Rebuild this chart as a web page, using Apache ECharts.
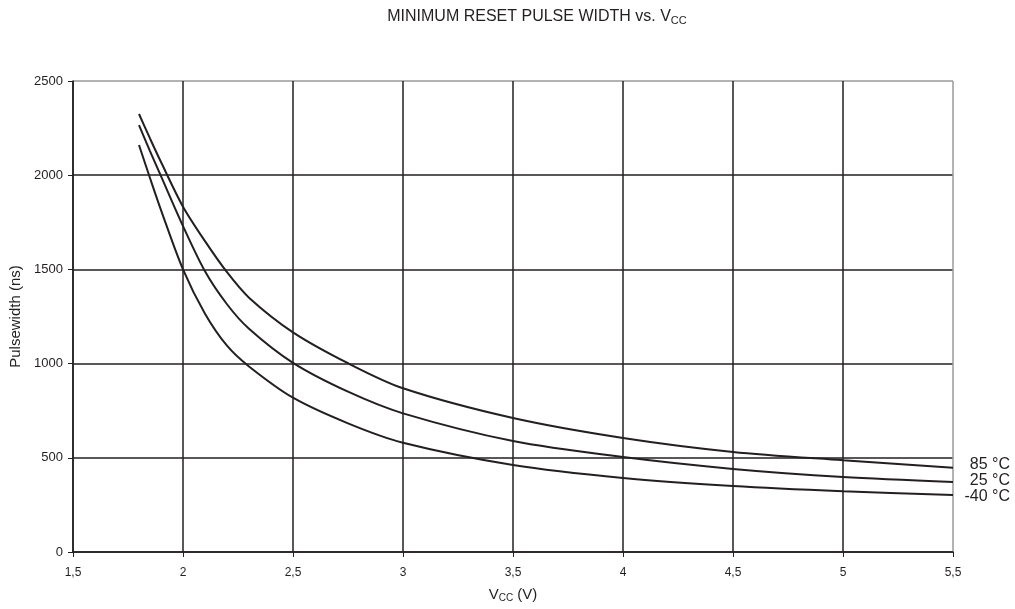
<!DOCTYPE html>
<html>
<head>
<meta charset="utf-8">
<script src="https://cdn.jsdelivr.net/npm/echarts@6/dist/echarts.min.js"></script>
<style>
	html, body { margin: 0; padding: 0; background: #fff; }
	#chart_pulse { width: 1015px; height: 609px; }
</style>
</head>
<body>
<div id="chart_pulse"></div>
<script>
	// supply voltage (V)
	var vcc = [1.8, 1.85, 1.9, 2.0, 2.1, 2.2, 2.3, 2.5, 2.75, 3, 3.5, 4, 4.5, 5, 5.5]
	// minimum reset pulse width (ns)
	var pw_85 = [2325, 2195, 2070, 1833, 1650, 1485, 1350, 1166, 1002, 869, 711, 605, 531, 487, 447]
	var pw_25 = [2266, 2128, 1995, 1730, 1490, 1315, 1185, 1004, 851, 736, 589, 504, 441, 398, 372]
	var pw_m40 = [2160, 1985, 1815, 1500, 1265, 1095, 985, 819, 683, 580, 462, 393, 350, 322, 302]
	var series_names = ['85 °C', '25 °C', '-40 °C']
	var x_ticks = [1.5, 2, 2.5, 3, 3.5, 4, 4.5, 5, 5.5]
	var y_ticks = [0, 500, 1000, 1500, 2000, 2500]

	var dark = '#231f20'
	var gray = '#9a9a9a'
	var font = 'Liberation Sans, Arial, sans-serif'

	function pairs(ys) {
		var out = []
		for (var i = 0; i < vcc.length; i++) out.push([vcc[i], ys[i]])
		return out
	}

	function curve(name, ys) {
		return {
			name: name,
			type: 'line',
			data: pairs(ys),
			smooth: 0.3,
			symbol: 'none',
			lineStyle: { color: dark, width: 2 },
			z: 5
		}
	}

	function sub_rich(size) {
		return {
			t: { fontFamily: font, fontSize: size, fontWeight: 'normal', color: dark },
			s: { fontFamily: font, fontSize: size - 5, fontWeight: 'normal', color: dark, verticalAlign: 'bottom', padding: [7, 0, 0, 0] }
		}
	}

	var chart = echarts.init(document.getElementById('chart_pulse'))
	var option = {
		animation: false,
		backgroundColor: '#fff',
		title: {
			text: '{t|MINIMUM RESET PULSE WIDTH vs. V}{s|CC}',
			left: 532,
			top: 3,
			textAlign: 'center',
			textStyle: { fontWeight: 'normal', rich: sub_rich(16) }
		},
		grid: { left: 73, right: 62, top: 81, bottom: 57, show: false, outerBoundsMode: 'none', containLabel: false },
		xAxis: {
			type: 'value',
			min: x_ticks[0],
			max: x_ticks[x_ticks.length - 1],
			interval: 0.5,
			name: '{t|V}{s|CC}{t| (V)}',
			nameLocation: 'middle',
			nameGap: 34,
			nameTextStyle: { rich: sub_rich(15) },
			axisLine: { show: true, lineStyle: { color: dark, width: 1.5 } },
			axisTick: { show: true, length: 5, lineStyle: { color: dark, width: 1 } },
			axisLabel: {
				fontFamily: font, fontSize: 12, color: dark, margin: 15,
				formatter: function(v) { return String(v).replace('.', ',') }
			},
			splitLine: {
				show: true,
				lineStyle: { color: [dark, dark, dark, dark, dark, dark, dark, dark, gray], width: 1.5 }
			}
		},
		yAxis: {
			type: 'value',
			min: y_ticks[0],
			max: y_ticks[y_ticks.length - 1],
			interval: 500,
			name: 'Pulsewidth (ns)',
			nameLocation: 'middle',
			nameGap: 49,
			nameTextStyle: { fontFamily: font, fontSize: 15, color: dark },
			axisLine: { show: true, lineStyle: { color: dark, width: 1.5 } },
			axisTick: { show: true, length: 5, lineStyle: { color: dark, width: 1 } },
			axisLabel: {
				fontFamily: font, fontSize: 13, color: dark, margin: 10,
				formatter: function(v) { return String(v) }
			},
			splitLine: {
				show: true,
				lineStyle: { color: [dark, dark, dark, dark, dark, gray], width: 1.5 }
			}
		},
		graphic: [
			{ type: 'text', right: 5, top: 457, style: { text: series_names[0], font: '16px ' + font, fill: dark } },
			{ type: 'text', right: 5, top: 473, style: { text: series_names[1], font: '16px ' + font, fill: dark } },
			{ type: 'text', right: 5, top: 489, style: { text: series_names[2], font: '16px ' + font, fill: dark } }
		],
		series: [
			curve(series_names[0], pw_85),
			curve(series_names[1], pw_25),
			curve(series_names[2], pw_m40)
		]
	}
	chart.setOption(option)
</script>
</body>
</html>
